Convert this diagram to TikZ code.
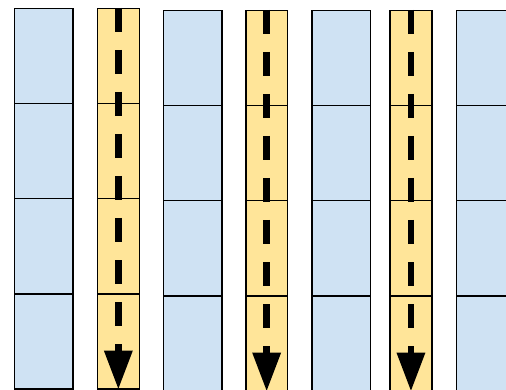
\documentclass[tikz,border=0pt]{standalone}
\usetikzlibrary{arrows.meta}
\definecolor{cellblue}{HTML}{CFE2F3}
\definecolor{cellyellow}{HTML}{FFE599}
\tikzset{
	cell/.style={draw=black, line width=1.5pt, inner sep=0pt, anchor=north west, minimum height=95pt},
	bluecell/.style={cell, fill=cellblue, minimum width=58.5pt},
	yellowcell/.style={cell, fill=cellyellow, minimum width=41.8pt},
	flowarrow/.style={line width=6.7pt, dash pattern=on 24pt off 18pt, -{Triangle[length=39pt,width=27pt]}}
}
\begin{document}
\begin{tikzpicture}[x=1pt,y=-1pt]
	\path[use as bounding box] (0,0) rectangle (506,390);
	\clip (0,0) rectangle (506,390);
	
	% columns of four cells each
	\foreach \name/\x/\top/\kind in {b1/13.7/8/bluecell, y1/96.7/8/yellowcell,
		b2/162.7/10/bluecell, y2/245/10/yellowcell, b3/311/10/bluecell,
		y3/389.3/10/yellowcell, b4/455.7/10/bluecell}
		\foreach \r in {1,...,4}
			\node[\kind] (\name-\r) at (\x,{\top+(\r-1)*95}) {};
	
	% dashed arrows down the yellow columns
	\foreach \name in {y1,y2,y3}
		\draw[flowarrow] (\name-1.north) -- (\name-4.south);
\end{tikzpicture}
\end{document}
